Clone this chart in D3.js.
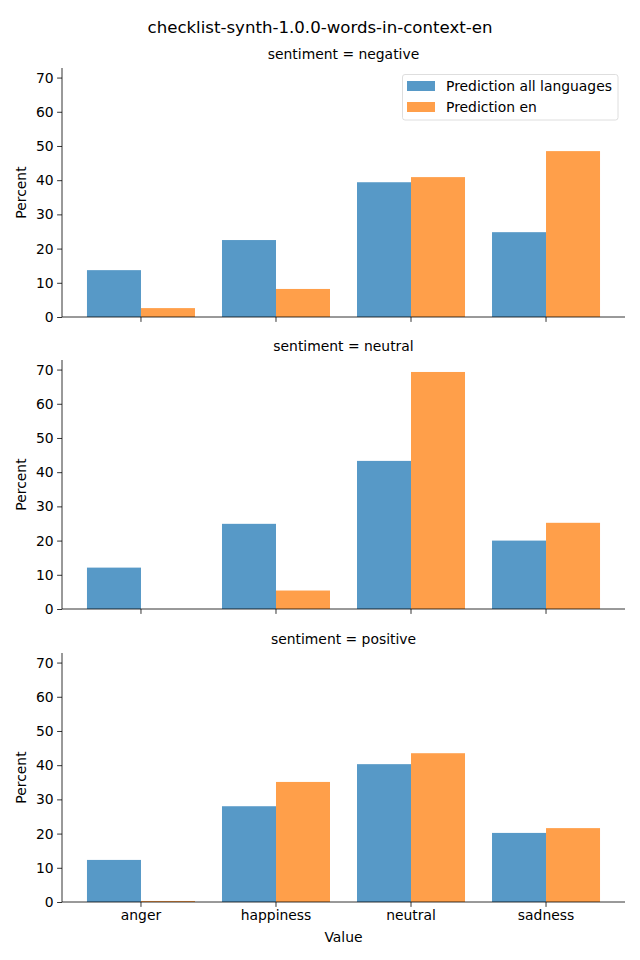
<!DOCTYPE html>
<html><head><meta charset="utf-8">
<script src="https://cdn.jsdelivr.net/npm/d3@7"></script>
<style>body{margin:0;background:#fff}svg{display:block}text{font-family:"DejaVu Sans",sans-serif;fill:#000}</style>
</head><body>
<script>
const title = "checklist-synth-1.0.0-words-in-context-en";
const categories = ["anger","happiness","neutral","sadness"];
const panels = ["sentiment = negative","sentiment = neutral","sentiment = positive"];
const seriesNames = ["Prediction all languages","Prediction en"];
const allLangNeg = [13.7, 22.5, 39.4, 24.8];
const enNeg      = [2.6, 8.2, 40.9, 48.5];
const allLangNeu = [12.1, 24.9, 43.3, 20.0];
const enNeu      = [0.0, 5.4, 69.3, 25.2];
const allLangPos = [12.3, 28.0, 40.3, 20.2];
const enPos      = [0.3, 35.1, 43.5, 21.6];
const yTicks = [0,10,20,30,40,50,60,70];
const colors = ["#1f77b4","#ff7f0e"];

const data = [[allLangNeg,enNeg],[allLangNeu,enNeu],[allLangPos,enPos]];

const W=640,H=960;
const FS="13.9px";
const svg=d3.select("body").append("svg").attr("width",W).attr("height",H);
svg.append("text").attr("x",320).attr("y",33).attr("text-anchor","middle").style("font-size","16.6px").text(title);

const left=62,right=625;
const panelTops=[68,360,653], panelH=249;
const x=d3.scaleBand().domain(categories).range([left,right]).paddingInner(0.2).paddingOuter(0.185);
const xs=d3.scaleBand().domain([0,1]).range([0,x.bandwidth()]);

panels.forEach((pt,i)=>{
  const top=panelTops[i], bottom=top+panelH;
  const y=d3.scaleLinear().domain([0,72.8]).range([bottom,top]);
  const g=svg.append("g");
  g.append("text").attr("x",(left+right)/2).attr("y",top-9).attr("text-anchor","middle").style("font-size",FS).text(pt);
  data[i].forEach((vals,s)=>{
    g.selectAll(null).data(vals).enter().append("rect")
      .attr("x",(d,j)=>x(categories[j])+xs(s))
      .attr("width",xs.bandwidth())
      .attr("y",d=>y(d)).attr("height",d=>y(0)-y(d))
      .attr("fill",colors[s]).attr("fill-opacity",0.75);
  });
  const ya=g.append("g").attr("transform",`translate(${left},0)`)
    .call(d3.axisLeft(y).tickValues(yTicks).tickSize(4.9).tickPadding(3.5));
  const xa=g.append("g").attr("transform",`translate(0,${bottom})`)
    .call(d3.axisBottom(x).tickSize(4.9).tickPadding(3.5).tickFormat(i===2?(d=>d):()=>""));
  [ya,xa].forEach(a=>{
    a.selectAll("text").style("font-size",FS).style("font-family","DejaVu Sans");
    a.selectAll("line").attr("stroke","#000").attr("stroke-width",0.8);
    a.select(".domain").attr("stroke","#000").attr("stroke-width",0.8);
  });
  ya.select(".domain").attr("d",`M0,${bottom}V${top}`);
  xa.select(".domain").attr("d",`M${left},0H${right}`);
  g.append("text").attr("transform",`translate(26,${(top+bottom)/2}) rotate(-90)`).attr("text-anchor","middle").style("font-size",FS).text("Percent");
  if(i===0){
    const lg=g.append("g");
    lg.append("rect").attr("x",402.5).attr("y",74.5).attr("width",215.5).attr("height",45.5).attr("rx",2.5)
      .attr("fill","#fff").attr("fill-opacity",0.8).attr("stroke","#d6d6d6").attr("stroke-width",0.8);
    seriesNames.forEach((n,s)=>{
      lg.append("rect").attr("x",407).attr("y",81+s*21).attr("width",28).attr("height",10).attr("fill",colors[s]).attr("fill-opacity",0.75);
      lg.append("text").attr("x",446).attr("y",91+s*21).style("font-size",FS).text(n);
    });
  }
});
svg.append("text").attr("x",(left+right)/2).attr("y",942).attr("text-anchor","middle").style("font-size",FS).text("Value");
</script>
</body></html>
